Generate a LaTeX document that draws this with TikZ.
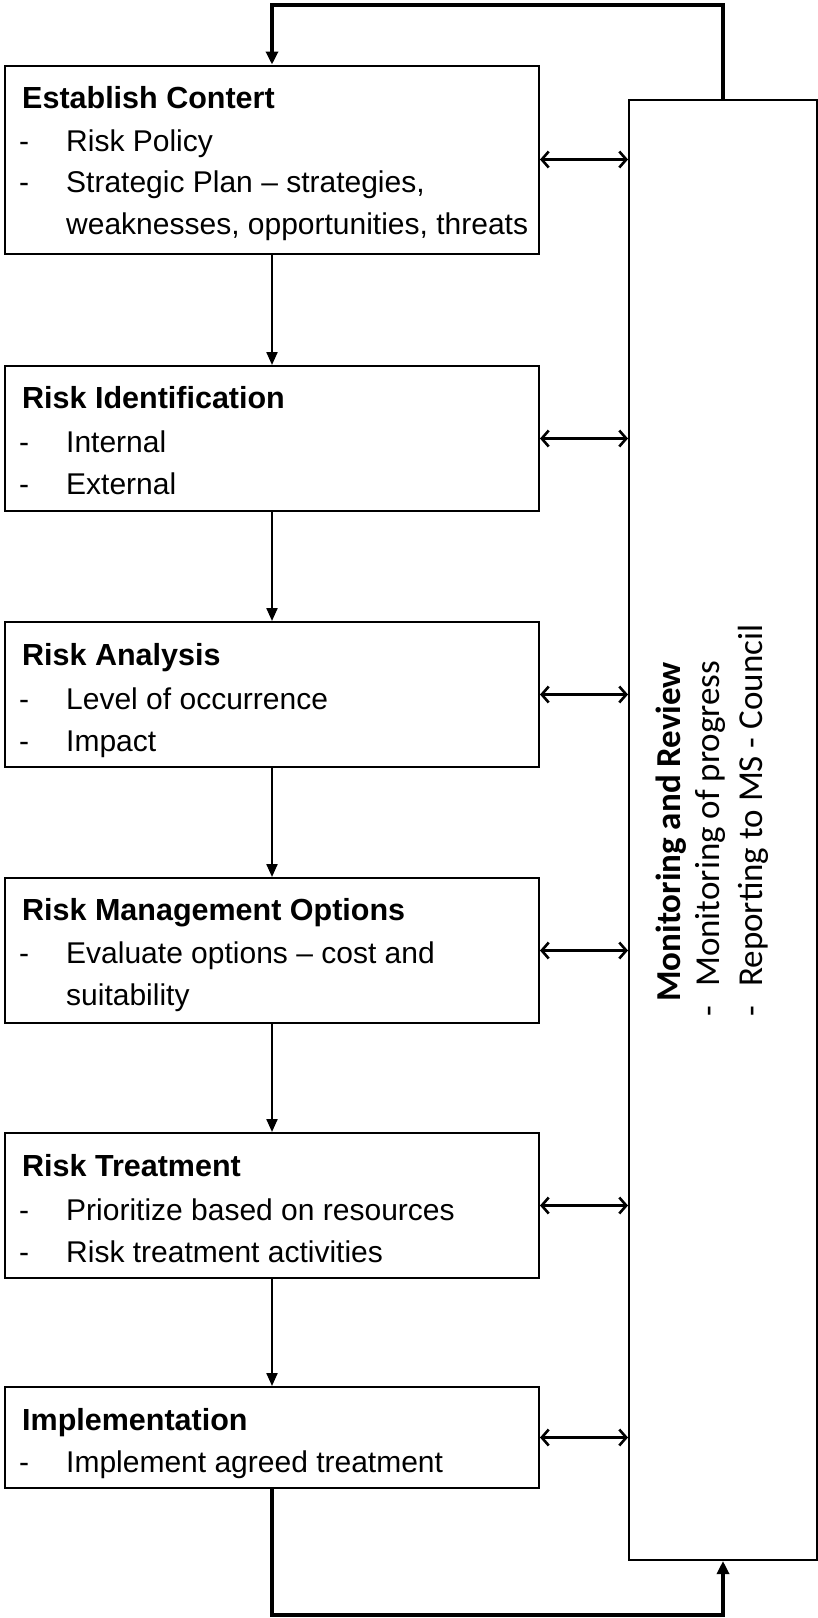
\documentclass[tikz,border=0pt]{standalone}
\usepackage{fontspec}
\setmainfont{Liberation Sans}
\newfontfamily\calfont{Carlito}
\usetikzlibrary{arrows.meta}
\begin{document}
\begin{tikzpicture}[x=1pt,y=-1pt,
  box/.style={draw=black, line width=2pt, minimum width=534pt, inner sep=0pt, rectangle},
  monbox/.style={draw=black, line width=2pt, minimum width=188pt, minimum height=1460pt, inner sep=0pt, rectangle},
  txt/.style={anchor=base west, inner sep=0pt, font=\fontsize{30}{36}\selectfont},
  ttl/.style={anchor=base west, inner sep=0pt, font=\bfseries\fontsize{30.5}{36}\selectfont},
  montxt/.style={anchor=base west, inner sep=0pt, rotate=90, font=\calfont\fontsize{35}{40}\selectfont},
  flow/.style={line width=2.2pt, -{Triangle[length=13pt,width=11pt]}},
  loopline/.style={line width=3.2pt, -{Triangle[length=13pt,width=12pt]}},
  link/.style={line width=2.6pt, {Straight Barb[length=7pt,width=16pt,line width=2.6pt]}-{Straight Barb[length=7pt,width=16pt,line width=2.6pt]}}
]
\useasboundingbox (0,0) rectangle (818,1618);
\fill[white] (0,0) rectangle (818,1618);

% left boxes
\node[box, minimum height=188pt] (b1) at (272,159.5) {};
\node[box, minimum height=145pt] (b2) at (272,438.5) {};
\node[box, minimum height=145pt] (b3) at (272,694.5) {};
\node[box, minimum height=145pt] (b4) at (272,950.5) {};
\node[box, minimum height=145pt] (b5) at (272,1205.5) {};
\node[box, minimum height=101pt] (b6) at (272,1437.5) {};

% right box
\node[monbox] (mon) at (723,830) {};

% texts box 1
\node[ttl] (t1) at (22,108) {Establish Contert};
\node[txt] (d1a) at (19,151) {-};
\node[txt] (t1a) at (66,151) {Risk Policy};
\node[txt] (d1b) at (19,192) {-};
\node[txt] (t1b) at (66,192) {Strategic Plan – strategies,};
\node[txt] (t1c) at (66,234) {weaknesses, opportunities, threats};

% box 2
\node[ttl] (t2) at (22,408) {Risk Identification};
\node[txt] (d2a) at (19,452) {-};
\node[txt] (t2a) at (66,452) {Internal};
\node[txt] (d2b) at (19,494) {-};
\node[txt] (t2b) at (66,494) {External};

% box 3
\node[ttl] (t3) at (22,665) {Risk Analysis};
\node[txt] (d3a) at (19,709) {-};
\node[txt] (t3a) at (66,709) {Level of occurrence};
\node[txt] (d3b) at (19,751) {-};
\node[txt] (t3b) at (66,751) {Impact};

% box 4
\node[ttl] (t4) at (22,920) {Risk Management Options};
\node[txt] (d4a) at (19,963) {-};
\node[txt] (t4a) at (66,963) {Evaluate options – cost and};
\node[txt] (t4b) at (66,1005) {suitability};

% box 5
\node[ttl] (t5) at (22,1176) {Risk Treatment};
\node[txt] (d5a) at (19,1220) {-};
\node[txt] (t5a) at (66,1220) {Prioritize based on resources};
\node[txt] (d5b) at (19,1262) {-};
\node[txt] (t5b) at (66,1262) {Risk treatment activities};

% box 6
\node[ttl] (t6) at (22,1430) {Implementation};
\node[txt] (d6a) at (19,1472) {-};
\node[txt] (t6a) at (66,1472) {Implement agreed treatment};

% right text
\node[montxt, font=\calfont\bfseries\fontsize{35}{40}\selectfont] (m0) at (680,1002) {Monitoring and Review};
\node[montxt] (md1) at (719,1017) {-};
\node[montxt] (m1) at (719,987) {Monitoring of progress};
\node[montxt] (md2) at (762,1017) {-};
\node[montxt] (m2) at (762,987) {Reporting to MS - Council};

% flow arrows
\draw[flow] (b1.south) -- (b2.north);
\draw[flow] (b2.south) -- (b3.north);
\draw[flow] (b3.south) -- (b4.north);
\draw[flow] (b4.south) -- (b5.north);
\draw[flow] (b5.south) -- (b6.north);

% links to monitoring
\foreach \b in {b1,b2,b3,b4,b5,b6}
  \draw[link] (\b.east) -- (mon.west |- \b.east);

% loops
\coordinate (topc) at (272,5);
\coordinate (botc) at (272,1615);
\draw[loopline] (mon.north) |- (topc) -- (b1.north);
\draw[loopline] (b6.south) -- (botc) -| (mon.south);
\end{tikzpicture}
\end{document}
